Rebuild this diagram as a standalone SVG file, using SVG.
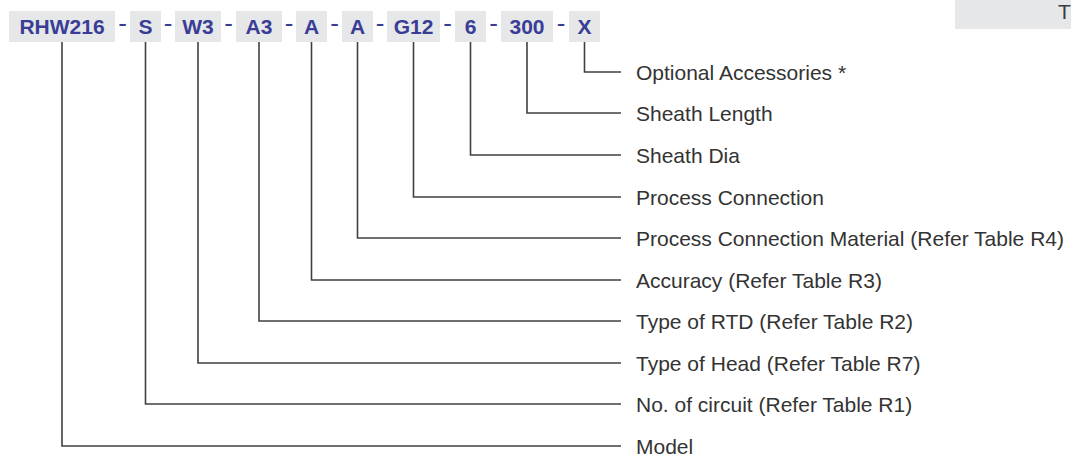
<svg xmlns="http://www.w3.org/2000/svg" width="1071" height="456" viewBox="0 0 1071 456">
<style>
.box{fill:#e6e7e8}
.code{font-family:"Liberation Sans",Arial,sans-serif;font-weight:bold;font-size:21px;fill:#3a3d96;text-anchor:middle}
.dash{font-family:"Liberation Sans",Arial,sans-serif;font-size:26px;fill:#3a3d96;text-anchor:middle}
.lbl{font-family:"Liberation Sans",Arial,sans-serif;font-size:21px;fill:#333333}
.conn path{fill:none;stroke:#404040;stroke-width:1.6}
</style>
<rect x="0" y="0" width="1071" height="456" fill="#ffffff"/>
<g id="tab">
<rect class="box" x="955" y="0" width="116" height="29"/>
<text class="lbl" x="1058" y="18.5" style="fill:#3a3a3a">T</text>
</g>
<g id="n-model"><rect class="box" x="9" y="11" width="106" height="31"/><text class="code" x="62" y="34">RHW216</text></g>
<g id="n-circuit"><rect class="box" x="130" y="11" width="31" height="31"/><text class="code" x="145.5" y="34">S</text></g>
<g id="n-head"><rect class="box" x="175" y="11" width="46" height="31"/><text class="code" x="198" y="34">W3</text></g>
<g id="n-rtd"><rect class="box" x="236" y="11" width="46" height="31"/><text class="code" x="259" y="34">A3</text></g>
<g id="n-accuracy"><rect class="box" x="296" y="11" width="31" height="31"/><text class="code" x="311.5" y="34">A</text></g>
<g id="n-material"><rect class="box" x="342" y="11" width="31" height="31"/><text class="code" x="357.5" y="34">A</text></g>
<g id="n-connection"><rect class="box" x="387" y="11" width="53" height="31"/><text class="code" x="413.5" y="34">G12</text></g>
<g id="n-dia"><rect class="box" x="455" y="11" width="31" height="31"/><text class="code" x="470.5" y="34">6</text></g>
<g id="n-length"><rect class="box" x="501" y="11" width="52" height="31"/><text class="code" x="527" y="34">300</text></g>
<g id="n-acc"><rect class="box" x="569" y="11" width="31" height="31"/><text class="code" x="584.5" y="34">X</text></g>
<g id="dashes">
<text class="dash" x="122.5" y="32">-</text>
<text class="dash" x="168" y="32">-</text>
<text class="dash" x="228.5" y="32">-</text>
<text class="dash" x="289" y="32">-</text>
<text class="dash" x="334.5" y="32">-</text>
<text class="dash" x="380" y="32">-</text>
<text class="dash" x="447.5" y="32">-</text>
<text class="dash" x="493.5" y="32">-</text>
<text class="dash" x="561" y="32">-</text>
</g>
<g class="conn" id="connectors">
<path d="M584.5 42V72H621"/>
<path d="M527 42V113H621"/>
<path d="M470.5 42V155H621"/>
<path d="M413.5 42V197H621"/>
<path d="M357.5 42V238H621"/>
<path d="M311.5 42V280H621"/>
<path d="M259 42V321H621"/>
<path d="M198 42V363H621"/>
<path d="M145.5 42V404H621"/>
<path d="M62 42V446H621"/>
</g>
<g id="labels">
<text class="lbl" x="636" y="79.5">Optional Accessories *</text>
<text class="lbl" x="636" y="120.5">Sheath Length</text>
<text class="lbl" x="636" y="162.5">Sheath Dia</text>
<text class="lbl" x="636" y="204.5">Process Connection</text>
<text class="lbl" x="636" y="245.5">Process Connection Material (Refer Table R4)</text>
<text class="lbl" x="636" y="287.5">Accuracy (Refer Table R3)</text>
<text class="lbl" x="636" y="328.5">Type of RTD (Refer Table R2)</text>
<text class="lbl" x="636" y="370.5">Type of Head (Refer Table R7)</text>
<text class="lbl" x="636" y="411.5">No. of circuit (Refer Table R1)</text>
<text class="lbl" x="636" y="453.5">Model</text>
</g>
</svg>
